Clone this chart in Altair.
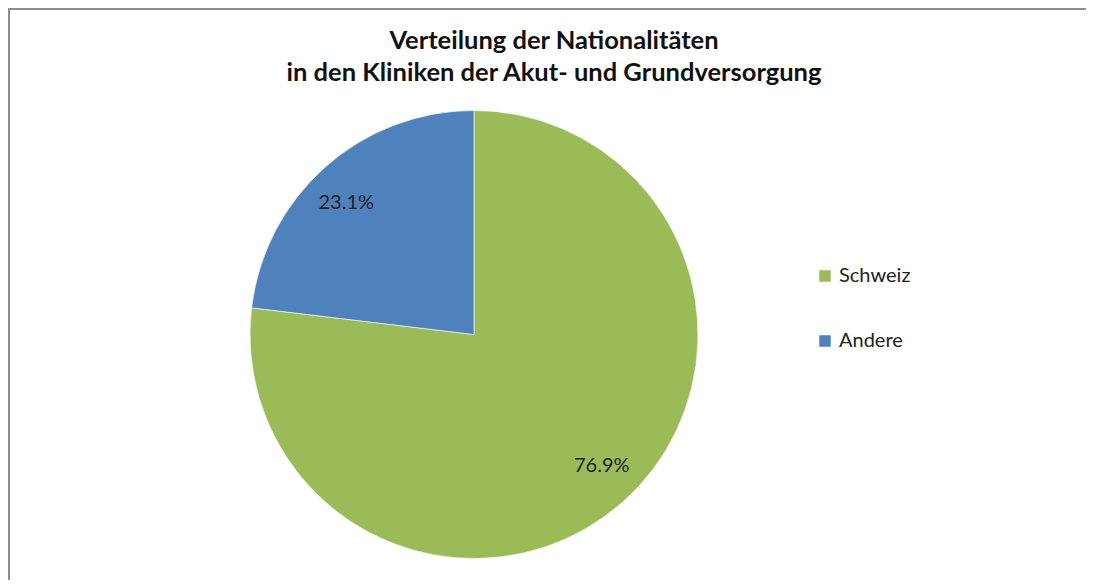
import altair as alt
import pandas as pd

categories = ["Schweiz", "Andere"]
values = [76.9, 23.1]
labels = ["76.9%", "23.1%"]
order_idx = [0, 1]
colors = ["#9BBB59", "#4F81BD"]

df = pd.DataFrame({"cat": categories, "value": values, "label": labels, "idx": order_idx})

W, H = 1078, 482
PT = 90
CX, CY = 466, 326.5 - PT
R = 224

base = alt.Chart(df).encode(
    theta=alt.Theta("value:Q", stack=True),
    order=alt.Order("idx:Q"),
)

pie = base.mark_arc(outerRadius=R, stroke="white", strokeWidth=0.6).encode(
    x=alt.value(CX),
    y=alt.value(CY),
    color=alt.Color(
        "cat:N",
        scale=alt.Scale(domain=categories, range=colors),
        sort=categories,
        legend=alt.Legend(
            title=None,
            orient="none",
            legendX=807,
            legendY=258 - PT,
            symbolType="square",
            symbolSize=132,
            symbolStrokeWidth=0,
            labelFontSize=20,
            labelFont="Lato",
            labelColor="#222222",
            labelOffset=4,
            rowPadding=45,
            padding=0,
        ),
    ),
)

text = base.mark_text(radius=183, thetaOffset=-0.047, fontSize=20, font="Lato", color="#222222").encode(
    x=alt.value(CX),
    y=alt.value(CY),
    text="label:N",
)

border_top = alt.Chart(df).mark_rule(color="#8E8E8E", strokeWidth=2).encode(
    x=alt.value(0), x2=alt.value(W + 20), y=alt.value(-PT + 1)
)
border_left = alt.Chart(df).mark_rule(color="#8E8E8E", strokeWidth=2).encode(
    x=alt.value(1), y=alt.value(-PT + 1), y2=alt.value(H + 20)
)

chart = (
    alt.layer(border_top, border_left, pie, text)
    .properties(
        width=W,
        height=H,
        autosize=alt.AutoSizeParams(type="none"),
        padding={"left": 0, "top": PT, "right": 0, "bottom": 0},
        title=alt.TitleParams(
            text=["Verteilung der Nationalitäten", "in den Kliniken der Akut- und Grundversorgung"],
            font="Lato",
            fontSize=25.5,
            fontWeight="bold",
            color="#111111",
            lineHeight=32,
            anchor="middle",
            frame="group",
            dx=7,
            offset=-78,
        ),
    )
    .configure_view(stroke=None)
)

chart.save("out.html", embed_options={"renderer": "svg", "actions": False})
